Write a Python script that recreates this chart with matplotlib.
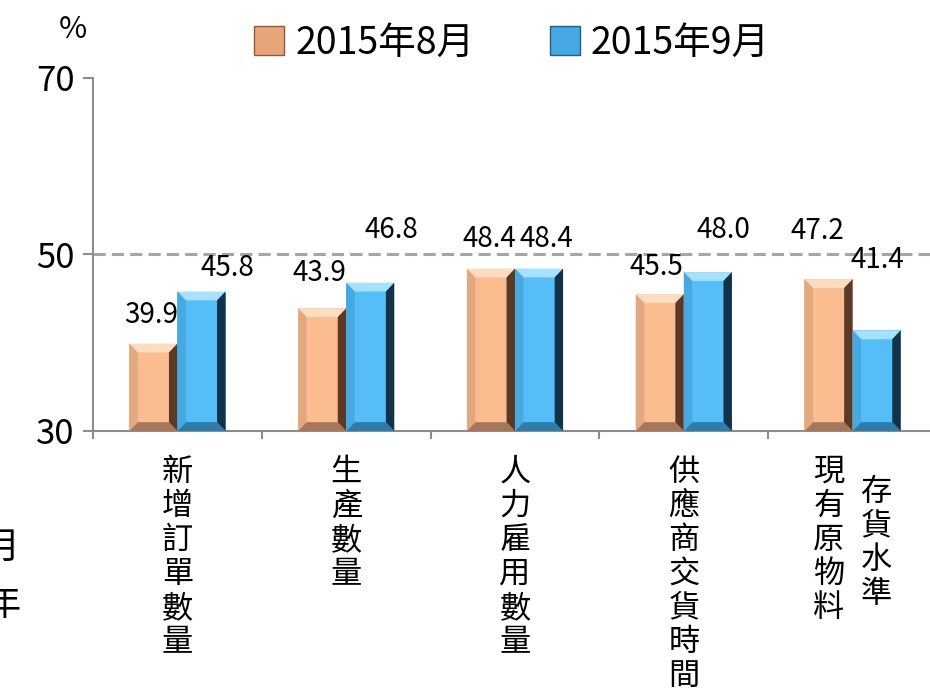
import matplotlib
matplotlib.use("Agg")
import matplotlib.pyplot as plt
from matplotlib.patches import Polygon, Rectangle
import numpy as np

plt.rcParams['font.family'] = ['Noto Sans CJK TC', 'DejaVu Sans']

# Data
categories = ["新增訂單數量", "生產數量", "人力雇用數量", "供應商交貨時間", "現有原物料\n存貨水準"]
series_names = ["2015年8月", "2015年9月"]
aug_values = [39.9, 43.9, 48.4, 45.5, 47.2]
sep_values = [45.8, 46.8, 48.4, 48.0, 41.4]

# label nudges in pixels (dx from bar centre, dy above bar top)
aug_label_off = [(-2, 29), (-3, 35), (-2, 30), (-3, 27), (-11, 48)]
sep_label_off = [(26, 24), (21, 53), (7, 30), (16, 42), (1, 70)]

ORANGE = dict(face="#FBBC8F", top="#FDDCC0", left="#E2A87F", right="#5A3A26", bottom="#A8775A")
BLUE = dict(face="#55BEF8", top="#A6E2FF", left="#47A9E2", right="#12324A", bottom="#2F7BAA")


def bevel_bar(ax, rect, col, bx=0.05, by=1.0):
    x0, y0 = rect.get_x(), rect.get_y()
    x1, y1 = x0 + rect.get_width(), y0 + rect.get_height()
    ix0, ix1, iy0, iy1 = x0 + bx, x1 - bx, y0 + by, y1 - by
    polys = [
        ([(x0, y1), (x1, y1), (ix1, iy1), (ix0, iy1)], col["top"]),
        ([(x0, y0), (x1, y0), (ix1, iy0), (ix0, iy0)], col["bottom"]),
        ([(x0, y0), (x0, y1), (ix0, iy1), (ix0, iy0)], col["left"]),
        ([(x1, y0), (x1, y1), (ix1, iy1), (ix1, iy0)], col["right"]),
    ]
    for pts, c in polys:
        ax.add_patch(Polygon(pts, closed=True, facecolor=c, edgecolor="none", zorder=3))


def main():
    fig = plt.figure(figsize=(9.3, 6.91), dpi=100)
    ax = fig.add_axes([0.1, 0.3763, 0.9075, 0.5109])

    x = np.arange(len(categories))
    w = 0.285
    bars_a = ax.bar(x - w / 2, aug_values, w, bottom=0, color=ORANGE["face"], zorder=2)
    bars_b = ax.bar(x + w / 2, sep_values, w, bottom=0, color=BLUE["face"], zorder=2)
    ax.set_ylim(30, 70)
    ax.set_xlim(-0.5, len(categories) - 0.5)

    for r in bars_a:
        r.set_y(30); r.set_height(r.get_height() - 30)
        bevel_bar(ax, r, ORANGE)
    for r in bars_b:
        r.set_y(30); r.set_height(r.get_height() - 30)
        bevel_bar(ax, r, BLUE)

    # value labels
    for bars, vals, offs in [(bars_a, aug_values, aug_label_off), (bars_b, sep_values, sep_label_off)]:
        for r, v, (dx, dy) in zip(bars, vals, offs):
            ax.annotate(f"{v:.1f}", (r.get_x() + r.get_width() / 2, v),
                        xytext=(dx * 0.72, dy * 0.72), textcoords="offset points",
                        ha="center", va="center", fontsize=20, color="black", zorder=5)

    # reference line at 50
    ax.axhline(50, color="#A6A6A6", lw=2.2, ls=(0, (4, 2)), zorder=1)

    # axes styling
    for s in ["top", "right"]:
        ax.spines[s].set_visible(False)
    for s in ["left", "bottom"]:
        ax.spines[s].set_color("#8C8C8C")
        ax.spines[s].set_linewidth(1.5)
    ax.set_yticks([30, 50, 70])
    ax.tick_params(axis="y", labelsize=25, length=7, width=1.5, color="#8C8C8C", pad=6)
    ax.set_xticks(np.arange(-0.5, len(categories), 1.0))
    ax.set_xticklabels([])
    ax.tick_params(axis="x", length=6, width=1.5, color="#8C8C8C")

    # stacked vertical category labels
    step = 24.5
    for i, cat in enumerate(categories):
        cols = cat.split("\n")
        if len(cols) == 1:
            xs, tops = [0], [-24]
        else:
            xs, tops = [-17, 17], [-24, -44]
        for col, cx, ty in zip(cols, xs, tops):
            for j, ch in enumerate(col):
                ax.annotate(ch, (i, 30), xytext=(cx, ty * 0.72 - 12 - j * step),
                            textcoords="offset points", ha="center", va="center",
                            fontsize=22.5, annotation_clip=False)

    # percent sign
    fig.text(73 / 930, 1 - 30 / 691, "%", fontsize=22, ha="center", va="center")

    # cropped text on the left edge
    fig.text(2 / 930, 1 - 548 / 691, "月", fontsize=26, ha="center", va="center")
    fig.text(2 / 930, 1 - 605 / 691, "年", fontsize=26, ha="center", va="center")

    # legend
    handles = [Rectangle((0, 0), 1, 1, facecolor="#E8A57A", edgecolor="#8A5A3C", lw=1),
               Rectangle((0, 0), 1, 1, facecolor="#45A8E2", edgecolor="#1F5F8A", lw=1)]
    fig.legend(handles, series_names, loc="center", bbox_to_anchor=(512 / 930, 1 - 43 / 691),
               ncol=2, frameon=False, fontsize=27, handlelength=0.8, handleheight=0.8,
               handletextpad=0.3, columnspacing=2.0)

    fig.savefig("out.png", dpi=100)


if __name__ == "__main__":
    main()
